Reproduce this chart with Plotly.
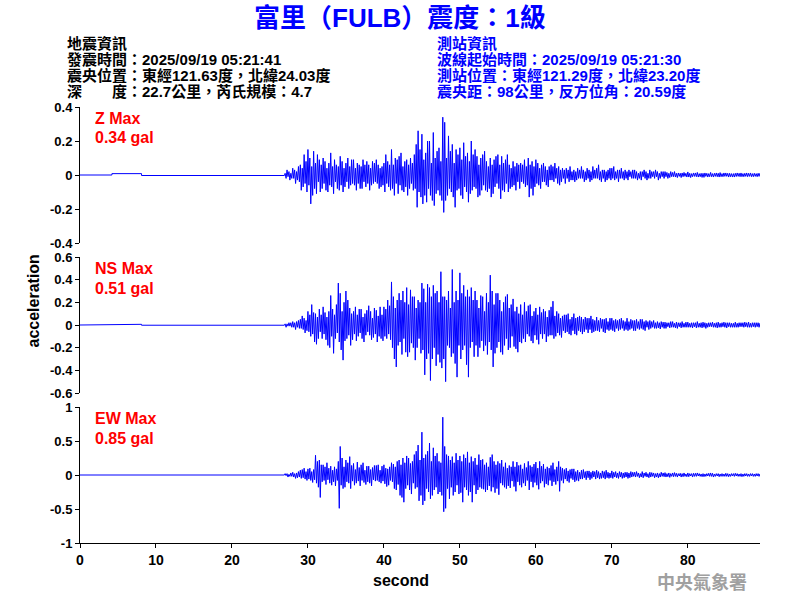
import plotly.graph_objects as go
from plotly.subplots import make_subplots

# ---------------- data ----------------
# pre-event quiet portion (time s, acceleration gal)
t_quiet = [0.0, 4.2, 4.2, 8.1, 8.1, 26.9]
z_quiet = [0.0, 0.0, 0.008, 0.008, -0.003, -0.003]
ns_quiet = [0.0, 0.0, 0.006, 0.006, -0.002, -0.002]
ew_quiet = [0.0, 0.0, 0.0, 0.0, 0.0, 0.0]

# strong-motion portion, peak values every 0.125 s starting at 27.0 s (one row per second)
t_onset = 27.0
dt = 0.125

z_acc = [
    0.01, -0.02, 0.03, -0.01, 0.02, -0.03, 0.01, -0.02,
    0.04, -0.02, 0.03, -0.05, 0.02, -0.03, 0.05, -0.04,
    0.06, -0.09, 0.04, -0.07, 0.12, -0.05, 0.08, -0.10,
    0.15, -0.06, 0.10, -0.17, 0.05, -0.12, 0.14, -0.08,
    0.07, -0.11, 0.12, -0.04, 0.09, -0.10, 0.06, -0.08,
    0.10, -0.05, 0.08, -0.09, 0.04, -0.10, 0.07, -0.06,
    0.13, -0.07, 0.05, -0.11, 0.09, -0.04, 0.06, -0.08,
    0.05, -0.09, 0.11, -0.06, 0.08, -0.10, 0.04, -0.07,
    0.07, -0.04, 0.10, -0.08, 0.05, -0.06, 0.09, -0.05,
    0.09, -0.06, 0.04, -0.09, 0.07, -0.05, 0.06, -0.08,
    0.05, -0.08, 0.09, -0.04, 0.06, -0.07, 0.08, -0.05,
    0.06, -0.09, 0.04, -0.06, 0.08, -0.05, 0.07, -0.04,
    0.09, -0.05, 0.06, -0.08, 0.04, -0.07, 0.05, -0.06,
    0.07, -0.10, 0.12, -0.05, 0.08, -0.07, 0.06, -0.09,
    0.15, -0.08, 0.06, -0.12, 0.10, -0.05, 0.09, -0.11,
    0.11, -0.06, 0.13, -0.09, 0.05, -0.10, 0.08, -0.07,
    0.09, -0.12, 0.06, -0.08, 0.10, -0.05, 0.07, -0.09,
    0.12, -0.08, 0.18, -0.19, 0.26, -0.10, 0.15, -0.13,
    0.24, -0.17, 0.09, -0.12, 0.13, -0.16, 0.20, -0.08,
    0.20, -0.12, 0.07, -0.15, 0.25, -0.18, 0.10, -0.11,
    0.14, -0.09, 0.16, -0.12, 0.08, -0.15, 0.34, -0.22,
    0.31, -0.15, 0.10, -0.12, 0.23, -0.08, 0.14, -0.10,
    0.18, -0.13, 0.07, -0.19, 0.15, -0.09, 0.12, -0.08,
    0.16, -0.12, 0.09, -0.14, 0.19, -0.07, 0.11, -0.10,
    0.13, -0.16, 0.08, -0.11, 0.20, -0.09, 0.12, -0.07,
    0.15, -0.08, 0.11, -0.13, 0.06, -0.12, 0.10, -0.09,
    0.12, -0.06, 0.14, -0.09, 0.08, -0.10, 0.05, -0.08,
    0.10, -0.13, 0.06, -0.11, 0.09, -0.07, 0.11, -0.05,
    0.12, -0.08, 0.06, -0.14, 0.11, -0.09, 0.07, -0.10,
    0.09, -0.05, 0.12, -0.10, 0.06, -0.08, 0.04, -0.07,
    0.08, -0.06, 0.05, -0.09, 0.07, -0.04, 0.06, -0.08,
    0.07, -0.04, 0.06, -0.05, 0.09, -0.07, 0.05, -0.06,
    0.10, -0.13, 0.06, -0.08, 0.08, -0.12, 0.05, -0.07,
    0.09, -0.05, 0.07, -0.06, 0.04, -0.08, 0.06, -0.04,
    0.07, -0.04, 0.05, -0.06, 0.03, -0.07, 0.05, -0.03,
    0.06, -0.03, 0.05, -0.04, 0.07, -0.02, 0.04, -0.05,
    0.05, -0.06, 0.03, -0.04, 0.04, -0.02, 0.03, -0.05,
    0.04, -0.02, 0.03, -0.04, 0.05, -0.03, 0.02, -0.03,
    0.03, -0.04, 0.02, -0.03, 0.04, -0.02, 0.03, -0.02,
    0.05, -0.02, 0.03, -0.04, 0.02, -0.03, 0.04, -0.02,
    0.03, -0.04, 0.02, -0.03, 0.05, -0.02, 0.03, -0.02,
    0.04, -0.02, 0.06, -0.03, 0.02, -0.04, 0.03, -0.02,
    0.03, -0.04, 0.02, -0.03, 0.03, -0.02, 0.04, -0.03,
    0.04, -0.02, 0.05, -0.03, 0.02, -0.02, 0.03, -0.04,
    0.03, -0.02, 0.04, -0.02, 0.02, -0.03, 0.03, -0.02,
    0.02, -0.03, 0.03, -0.01, 0.02, -0.02, 0.03, -0.02,
    0.03, -0.02, 0.02, -0.03, 0.01, -0.02, 0.02, -0.03,
    0.02, -0.01, 0.03, -0.02, 0.02, -0.03, 0.01, -0.02,
    0.03, -0.02, 0.02, -0.01, 0.02, -0.02, 0.03, -0.01,
    0.02, -0.03, 0.01, -0.02, 0.02, -0.01, 0.02, -0.02,
    0.02, -0.01, 0.015, -0.02, 0.01, -0.015, 0.02, -0.01,
    0.015, -0.01, 0.02, -0.012, 0.01, -0.015, 0.012, -0.008,
    0.01, -0.015, 0.012, -0.01, 0.015, -0.008, 0.01, -0.012,
    0.018, -0.012, 0.01, -0.015, 0.008, -0.01, 0.012, -0.008,
    0.012, -0.01, 0.015, -0.012, 0.008, -0.01, 0.01, -0.014,
    0.01, -0.014, 0.012, -0.008, 0.01, -0.012, 0.008, -0.01,
    0.015, -0.01, 0.008, -0.012, 0.01, -0.008, 0.012, -0.01,
    0.01, -0.012, 0.014, -0.01, 0.008, -0.01, 0.012, -0.008,
    0.012, -0.008, 0.01, -0.012, 0.01, -0.01, 0.008, -0.012,
    0.008, -0.012, 0.01, -0.009, 0.012, -0.008, 0.01, -0.01,
    0.012, -0.01, 0.008, -0.01, 0.01, -0.008, 0.012, -0.01,
    0.01, -0.008, 0.012, -0.01, 0.008, -0.01, 0.01, -0.008,
    0.008, -0.01, 0.01, -0.008, 0.01, -0.01, 0.008, -0.01,
]

ns_acc = [
    0.01, -0.02, 0.01, -0.01, 0.02, -0.01, 0.02, -0.02,
    0.03, -0.02, 0.02, -0.04, 0.03, -0.02, 0.04, -0.03,
    0.05, -0.03, 0.08, -0.04, 0.06, -0.07, 0.04, -0.05,
    0.12, -0.06, 0.09, -0.10, 0.18, -0.08, 0.11, -0.15,
    0.10, -0.17, 0.07, -0.12, 0.14, -0.06, 0.09, -0.12,
    0.16, -0.08, 0.11, -0.13, 0.07, -0.18, 0.12, -0.20,
    0.26, -0.10, 0.14, -0.25, 0.09, -0.12, 0.18, -0.07,
    0.37, -0.15, 0.28, -0.22, 0.12, -0.31, 0.20, -0.14,
    0.30, -0.12, 0.22, -0.09, 0.15, -0.18, 0.10, -0.13,
    0.12, -0.08, 0.16, -0.14, 0.09, -0.10, 0.14, -0.07,
    0.14, -0.12, 0.07, -0.15, 0.10, -0.09, 0.13, -0.06,
    0.17, -0.09, 0.12, -0.13, 0.06, -0.11, 0.15, -0.08,
    0.13, -0.15, 0.08, -0.10, 0.16, -0.12, 0.09, -0.14,
    0.16, -0.10, 0.14, -0.12, 0.22, -0.08, 0.17, -0.13,
    0.38, -0.20, 0.25, -0.30, 0.15, -0.37, 0.22, -0.18,
    0.28, -0.15, 0.22, -0.26, 0.30, -0.12, 0.20, -0.24,
    0.33, -0.28, 0.18, -0.24, 0.31, -0.16, 0.25, -0.20,
    0.25, -0.31, 0.15, -0.20, 0.22, -0.12, 0.20, -0.25,
    0.37, -0.22, 0.32, -0.44, 0.20, -0.30, 0.36, -0.25,
    0.33, -0.49, 0.25, -0.30, 0.35, -0.20, 0.28, -0.36,
    0.30, -0.26, 0.20, -0.33, 0.47, -0.38, 0.25, -0.30,
    0.25, -0.50, 0.22, -0.18, 0.30, -0.20, 0.15, -0.28,
    0.49, -0.25, 0.20, -0.34, 0.30, -0.46, 0.22, -0.18,
    0.46, -0.30, 0.28, -0.22, 0.35, -0.18, 0.25, -0.35,
    0.31, -0.46, 0.25, -0.20, 0.33, -0.15, 0.22, -0.28,
    0.30, -0.18, 0.22, -0.28, 0.15, -0.20, 0.26, -0.14,
    0.25, -0.23, 0.12, -0.18, 0.28, -0.26, 0.20, -0.15,
    0.44, -0.22, 0.30, -0.37, 0.18, -0.25, 0.28, -0.20,
    0.28, -0.15, 0.22, -0.24, 0.12, -0.26, 0.20, -0.18,
    0.25, -0.12, 0.27, -0.22, 0.15, -0.20, 0.18, -0.10,
    0.23, -0.19, 0.12, -0.21, 0.16, -0.24, 0.10, -0.15,
    0.18, -0.16, 0.09, -0.12, 0.20, -0.15, 0.12, -0.08,
    0.17, -0.10, 0.18, -0.14, 0.08, -0.16, 0.12, -0.09,
    0.15, -0.13, 0.09, -0.17, 0.16, -0.08, 0.11, -0.12,
    0.14, -0.08, 0.12, -0.15, 0.07, -0.10, 0.13, -0.09,
    0.16, -0.09, 0.21, -0.12, 0.08, -0.10, 0.12, -0.07,
    0.10, -0.09, 0.06, -0.11, 0.08, -0.05, 0.09, -0.07,
    0.09, -0.06, 0.10, -0.08, 0.05, -0.09, 0.07, -0.05,
    0.10, -0.08, 0.06, -0.09, 0.07, -0.05, 0.08, -0.06,
    0.07, -0.08, 0.05, -0.06, 0.07, -0.04, 0.06, -0.07,
    0.06, -0.04, 0.08, -0.07, 0.05, -0.06, 0.04, -0.05,
    0.07, -0.05, 0.04, -0.06, 0.06, -0.03, 0.05, -0.06,
    0.05, -0.07, 0.06, -0.04, 0.03, -0.05, 0.06, -0.04,
    0.06, -0.05, 0.04, -0.06, 0.05, -0.03, 0.04, -0.05,
    0.05, -0.04, 0.06, -0.03, 0.04, -0.05, 0.03, -0.04,
    0.06, -0.05, 0.03, -0.04, 0.05, -0.03, 0.04, -0.05,
    0.04, -0.05, 0.05, -0.03, 0.03, -0.04, 0.05, -0.03,
    0.05, -0.04, 0.03, -0.05, 0.04, -0.02, 0.03, -0.04,
    0.04, -0.03, 0.03, -0.02, 0.04, -0.03, 0.02, -0.03,
    0.03, -0.025, 0.02, -0.035, 0.03, -0.02, 0.025, -0.03,
    0.025, -0.03, 0.02, -0.015, 0.02, -0.025, 0.03, -0.02,
    0.03, -0.02, 0.015, -0.025, 0.025, -0.03, 0.02, -0.015,
    0.02, -0.025, 0.03, -0.02, 0.015, -0.02, 0.025, -0.02,
    0.025, -0.02, 0.015, -0.02, 0.02, -0.025, 0.02, -0.015,
    0.02, -0.025, 0.03, -0.02, 0.015, -0.02, 0.02, -0.025,
    0.025, -0.02, 0.02, -0.03, 0.015, -0.02, 0.02, -0.015,
    0.02, -0.015, 0.025, -0.02, 0.015, -0.02, 0.02, -0.025,
    0.025, -0.02, 0.015, -0.02, 0.02, -0.015, 0.025, -0.02,
    0.02, -0.025, 0.02, -0.015, 0.02, -0.02, 0.015, -0.02,
    0.015, -0.02, 0.025, -0.02, 0.015, -0.02, 0.02, -0.015,
    0.02, -0.015, 0.02, -0.02, 0.025, -0.015, 0.02, -0.02,
    0.025, -0.02, 0.015, -0.02, 0.02, -0.015, 0.02, -0.02,
    0.02, -0.015, 0.02, -0.02, 0.015, -0.02, 0.02, -0.015,
]

ew_acc = [
    0.02, -0.01, 0.02, -0.03, 0.01, -0.02, 0.03, -0.02,
    0.04, -0.03, 0.02, -0.05, 0.03, -0.04, 0.05, -0.03,
    0.07, -0.05, 0.08, -0.04, 0.10, -0.06, 0.05, -0.08,
    0.09, -0.06, 0.10, -0.08, 0.05, -0.11, 0.08, -0.07,
    0.29, -0.12, 0.20, -0.18, 0.22, -0.33, 0.15, -0.10,
    0.15, -0.08, 0.12, -0.14, 0.18, -0.07, 0.10, -0.12,
    0.13, -0.15, 0.07, -0.10, 0.12, -0.16, 0.09, -0.08,
    0.20, -0.49, 0.42, -0.15, 0.25, -0.20, 0.12, -0.18,
    0.22, -0.10, 0.18, -0.12, 0.27, -0.20, 0.14, -0.09,
    0.17, -0.15, 0.08, -0.12, 0.19, -0.09, 0.11, -0.16,
    0.15, -0.08, 0.18, -0.11, 0.07, -0.14, 0.13, -0.10,
    0.13, -0.12, 0.08, -0.16, 0.11, -0.07, 0.14, -0.09,
    0.14, -0.08, 0.15, -0.10, 0.07, -0.12, 0.13, -0.09,
    0.15, -0.13, 0.10, -0.17, 0.09, -0.15, 0.12, -0.08,
    0.18, -0.10, 0.16, -0.20, 0.12, -0.22, 0.20, -0.14,
    0.22, -0.30, 0.15, -0.33, 0.25, -0.40, 0.18, -0.20,
    0.28, -0.15, 0.25, -0.22, 0.17, -0.28, 0.20, -0.12,
    0.30, -0.20, 0.35, -0.18, 0.44, -0.38, 0.22, -0.30,
    0.63, -0.44, 0.25, -0.38, 0.30, -0.20, 0.35, -0.25,
    0.47, -0.35, 0.20, -0.30, 0.40, -0.22, 0.28, -0.18,
    0.32, -0.28, 0.20, -0.25, 0.18, -0.30, 0.85, -0.54,
    0.42, -0.49, 0.30, -0.20, 0.28, -0.35, 0.22, -0.18,
    0.27, -0.30, 0.18, -0.25, 0.32, -0.15, 0.22, -0.28,
    0.28, -0.26, 0.20, -0.40, 0.30, -0.18, 0.25, -0.22,
    0.34, -0.30, 0.18, -0.25, 0.27, -0.40, 0.20, -0.15,
    0.25, -0.28, 0.15, -0.22, 0.30, -0.18, 0.22, -0.20,
    0.23, -0.21, 0.15, -0.25, 0.18, -0.22, 0.12, -0.16,
    0.26, -0.24, 0.30, -0.18, 0.20, -0.26, 0.15, -0.20,
    0.20, -0.29, 0.17, -0.12, 0.22, -0.15, 0.12, -0.18,
    0.18, -0.20, 0.10, -0.16, 0.14, -0.19, 0.12, -0.09,
    0.20, -0.17, 0.12, -0.24, 0.19, -0.10, 0.14, -0.15,
    0.15, -0.18, 0.09, -0.12, 0.17, -0.16, 0.11, -0.08,
    0.20, -0.22, 0.14, -0.10, 0.12, -0.18, 0.16, -0.11,
    0.19, -0.15, 0.10, -0.21, 0.20, -0.12, 0.13, -0.09,
    0.16, -0.18, 0.09, -0.13, 0.12, -0.15, 0.10, -0.08,
    0.14, -0.16, 0.18, -0.10, 0.08, -0.14, 0.12, -0.09,
    0.20, -0.24, 0.12, -0.08, 0.10, -0.12, 0.08, -0.06,
    0.10, -0.09, 0.06, -0.11, 0.08, -0.05, 0.09, -0.07,
    0.09, -0.10, 0.05, -0.08, 0.07, -0.09, 0.04, -0.06,
    0.07, -0.06, 0.08, -0.04, 0.05, -0.07, 0.06, -0.04,
    0.06, -0.07, 0.04, -0.05, 0.06, -0.03, 0.05, -0.06,
    0.07, -0.04, 0.05, -0.06, 0.03, -0.05, 0.06, -0.04,
    0.05, -0.06, 0.07, -0.04, 0.04, -0.05, 0.03, -0.04,
    0.06, -0.05, 0.04, -0.03, 0.05, -0.04, 0.03, -0.05,
    0.05, -0.03, 0.04, -0.05, 0.03, -0.04, 0.04, -0.03,
    0.04, -0.05, 0.03, -0.04, 0.05, -0.03, 0.04, -0.02,
    0.04, -0.03, 0.05, -0.02, 0.03, -0.04, 0.02, -0.03,
    0.05, -0.04, 0.03, -0.02, 0.04, -0.03, 0.02, -0.04,
    0.04, -0.03, 0.035, -0.02, 0.03, -0.04, 0.02, -0.03,
    0.03, -0.04, 0.02, -0.03, 0.04, -0.02, 0.03, -0.025,
    0.035, -0.03, 0.02, -0.025, 0.03, -0.035, 0.02, -0.02,
    0.03, -0.025, 0.035, -0.02, 0.025, -0.03, 0.02, -0.015,
    0.025, -0.03, 0.02, -0.025, 0.03, -0.02, 0.015, -0.025,
    0.03, -0.025, 0.02, -0.015, 0.02, -0.03, 0.025, -0.02,
    0.025, -0.02, 0.03, -0.015, 0.02, -0.02, 0.015, -0.025,
    0.02, -0.025, 0.015, -0.02, 0.02, -0.015, 0.025, -0.02,
    0.03, -0.02, 0.025, -0.03, 0.015, -0.02, 0.02, -0.015,
    0.02, -0.025, 0.015, -0.02, 0.02, -0.02, 0.015, -0.02,
    0.025, -0.02, 0.02, -0.025, 0.015, -0.02, 0.02, -0.015,
    0.02, -0.02, 0.025, -0.015, 0.02, -0.02, 0.015, -0.02,
    0.02, -0.025, 0.015, -0.02, 0.02, -0.015, 0.02, -0.02,
    0.015, -0.02, 0.02, -0.015, 0.02, -0.02, 0.015, -0.02,
    0.02, -0.015, 0.02, -0.02, 0.015, -0.02, 0.02, -0.015,
]

channel_names = ["Z", "NS", "EW"]
channel_max = ["0.34 gal", "0.51 gal", "0.85 gal"]

x_range = [0, 89.5]
x_tickvals = [0, 10, 20, 30, 40, 50, 60, 70, 80]
x_ticktext = ["0", "10", "20", "30", "40", "50", "60", "70", "80"]

y_ranges = [[-0.4, 0.4], [-0.6, 0.6], [-1, 1]]
y_tickvals = [
    [-0.4, -0.2, 0, 0.2, 0.4],
    [-0.6, -0.4, -0.2, 0, 0.2, 0.4, 0.6],
    [-1, -0.5, 0, 0.5, 1],
]
y_ticktext = [
    ["-0.4", "-0.2", "0", "0.2", "0.4"],
    ["-0.6", "-0.4", "-0.2", "0", "0.2", "0.4", "0.6"],
    ["-1", "-0.5", "0", "0.5", "1"],
]

title_text = "富里（FULB）震度：1級"
quake_info = [
    "地震資訊",
    "發震時間：2025/09/19 05:21:41",
    "震央位置：東經121.63度，北緯24.03度",
    "深\u3000\u3000度：22.7公里，芮氏規模：4.7",
]
station_info = [
    "測站資訊",
    "波線起始時間：2025/09/19 05:21:30",
    "測站位置：東經121.29度，北緯23.20度",
    "震央距：98公里，反方位角：20.59度",
]
watermark = "中央氣象署"

# ---------------- figure ----------------
W, H = 800, 600
ML, MR, MT, MB = 80, 40, 107, 57
PW, PH = W - ML - MR, H - MT - MB

def px(x):
    return (x - ML) / PW

def py(y):
    return (H - MB - y) / PH

LATIN_CJK = "Liberation Sans, Arial, Noto Sans CJK TC, sans-serif"

fig = make_subplots(rows=3, cols=1, shared_xaxes=True, vertical_spacing=14 / PH)

series = [(z_quiet, z_acc), (ns_quiet, ns_acc), (ew_quiet, ew_acc)]
for i, (quiet, acc) in enumerate(series):
    t_active = [t_onset + dt * k for k in range(len(acc))]
    fig.add_trace(
        go.Scatter(
            x=t_quiet + t_active,
            y=quiet + acc,
            mode="lines",
            line=dict(color="#0000FF", width=1),
            showlegend=False,
            hoverinfo="skip",
        ),
        row=i + 1,
        col=1,
    )
    fig.update_yaxes(
        range=y_ranges[i],
        tickvals=y_tickvals[i],
        ticktext=y_ticktext[i],
        showline=True,
        linecolor="black",
        linewidth=1,
        ticks="outside",
        ticklen=4,
        tickcolor="black",
        showgrid=False,
        zeroline=False,
        tickfont=dict(family=LATIN_CJK, size=13, color="black", weight="bold"),
        row=i + 1,
        col=1,
    )
    fig.update_xaxes(range=x_range, showgrid=False, zeroline=False, row=i + 1, col=1)

# bottom x axis only
fig.update_xaxes(showline=False, showticklabels=False, ticks="", row=1, col=1)
fig.update_xaxes(showline=False, showticklabels=False, ticks="", row=2, col=1)
fig.update_xaxes(
    showline=True,
    linecolor="black",
    linewidth=1,
    ticks="outside",
    ticklen=4,
    tickcolor="black",
    tickvals=x_tickvals,
    ticktext=x_ticktext,
    showticklabels=True,
    tickfont=dict(family=LATIN_CJK, size=14, color="black", weight="bold"),
    row=3,
    col=1,
)

ann = []
ann.append(dict(text=title_text, x=px(400), y=py(18), xanchor="center", yanchor="middle",
                font=dict(family=LATIN_CJK, size=26, color="#0000FF", weight="bold")))
line_y = [44, 60, 76, 91.5]
for s, yy in zip(quake_info, line_y):
    ann.append(dict(text=s, x=px(65), y=py(yy), xanchor="left", yanchor="middle",
                    font=dict(family=LATIN_CJK, size=15, color="black", weight="bold")))
for s, yy in zip(station_info, line_y):
    ann.append(dict(text=s, x=px(435), y=py(yy), xanchor="left", yanchor="middle",
                    font=dict(family=LATIN_CJK, size=15, color="#0000FF", weight="bold")))

panel_top = [107, 257, 407]
for name, mx, top in zip(channel_names, channel_max, panel_top):
    ann.append(dict(text=f"{name} Max", x=px(93), y=py(top + 11), xanchor="left", yanchor="middle",
                    font=dict(family=LATIN_CJK, size=16, color="#FF0000", weight="bold")))
    ann.append(dict(text=mx, x=px(93), y=py(top + 31), xanchor="left", yanchor="middle",
                    font=dict(family=LATIN_CJK, size=16, color="#FF0000", weight="bold")))

ann.append(dict(text="acceleration", x=px(33), y=py(301.5), xanchor="center", yanchor="middle",
                textangle=-90, font=dict(family=LATIN_CJK, size=16, color="black", weight="bold")))
ann.append(dict(text="second", x=px(401), y=py(580), xanchor="center", yanchor="middle",
                font=dict(family=LATIN_CJK, size=16, color="black", weight="bold")))
ann.append(dict(text=watermark, x=px(702), y=py(581), xanchor="center", yanchor="middle",
                font=dict(family="Noto Sans CJK TC", size=18, color="#A0A0A0", weight="bold")))

for a in ann:
    a.update(xref="paper", yref="paper", showarrow=False)

fig.update_layout(
    width=W,
    height=H,
    margin=dict(l=ML, r=MR, t=MT, b=MB, pad=0),
    paper_bgcolor="white",
    plot_bgcolor="white",
    annotations=ann,
    showlegend=False,
)

fig.write_html(
    "out.html",
    config={"displayModeBar": False},
    post_script="document.body.style.margin='0';",
)
